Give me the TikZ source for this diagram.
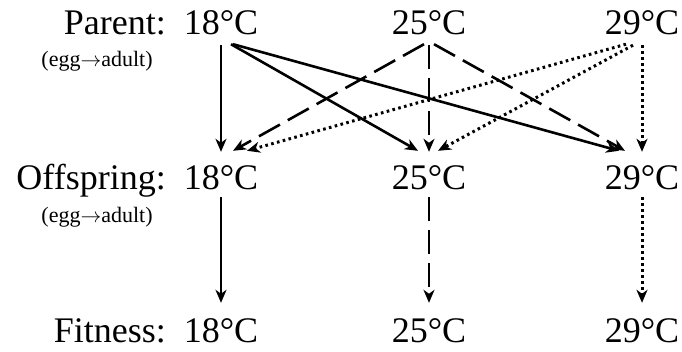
\documentclass[tikz,border=0pt]{standalone}
\usepackage{fontspec}
\setmainfont{Liberation Serif}
\usepackage{tikz}
\usetikzlibrary{arrows.meta}

\begin{document}
\begin{tikzpicture}[x=1pt,y=1pt,
  temp/.style={inner sep=0pt,anchor=base,font=\fontsize{36}{40}\selectfont,text height=25pt,text depth=0pt},
  rowlbl/.style={inner sep=0pt,anchor=base east,font=\fontsize{36}{40}\selectfont},
  stage/.style={inner sep=0pt,anchor=base,font=\fontsize{22}{26}\selectfont},
  arr/.style={-{Stealth[length=13pt,width=11pt,inset=4pt]},line width=2.6pt},
  from18/.style={arr},
  from25/.style={arr,dash pattern=on 24pt off 9pt},
  from29/.style={arr,line width=3pt,dash pattern=on 2.6pt off 3.4pt}]
  \useasboundingbox (0,0) rectangle (682,351);
  \foreach \t/\x in {18/221,25/429,29/642}{
    \node[temp] (p\t) at (\x,316) {\t°C};
    \node[temp] (o\t) at (\x,161) {\t°C};
    \node[temp] (f\t) at (\x,9) {\t°C};
  }
  \node[rowlbl] (parent) at (166,316) {Parent:};
  \node[rowlbl] (offspring) at (166,161) {Offspring:};
  \node[rowlbl] (fitness) at (166,9) {Fitness:};
  \node[stage] (stage1) at (97,284) {(egg$\rightarrow$adult)};
  \node[stage] (stage2) at (97,129) {(egg$\rightarrow$adult)};
  \draw[from18] ([yshift=-10pt]p18.south) -- ([yshift=13pt]o18.north);
  \draw[from18] ([shift={(10pt,-9pt)}]p18.south) -- ([shift={(-11pt,14pt)}]o25.north);
  \draw[from18] ([shift={(12pt,-9pt)}]p18.south) -- ([shift={(-23pt,14pt)}]o29.north);
  \draw[from25] ([shift={(-5pt,-9pt)}]p25.south) -- ([shift={(12pt,14pt)}]o18.north);
  \draw[from25] ([yshift=-10pt]p25.south) -- ([yshift=13pt]o25.north);
  \draw[from25] ([shift={(5pt,-9pt)}]p25.south) -- ([shift={(-17pt,14pt)}]o29.north);
  \draw[from29] ([shift={(-16pt,-9pt)}]p29.south) -- ([shift={(26pt,14pt)}]o18.north);
  \draw[from29] ([shift={(-9pt,-10pt)}]p29.south) -- ([shift={(9pt,14pt)}]o25.north);
  \draw[from29] ([yshift=-10pt]p29.south) -- ([yshift=13pt]o29.north);
  \draw[from18] ([yshift=-7pt]o18.south) -- ([yshift=14pt]f18.north);
  \draw[from25] ([yshift=-7pt]o25.south) -- ([yshift=14pt]f25.north);
  \draw[from29] ([yshift=-7pt]o29.south) -- ([yshift=14pt]f29.north);
\end{tikzpicture}
\end{document}
